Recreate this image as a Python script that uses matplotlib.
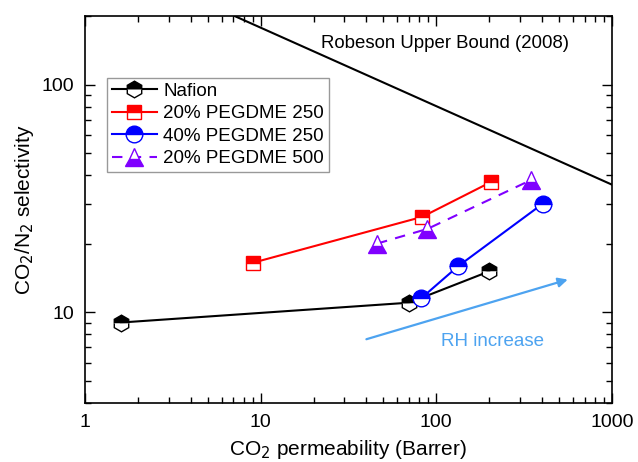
import numpy as np
import matplotlib.pyplot as plt
from matplotlib.ticker import LogLocator, NullFormatter, FixedLocator

plt.rcParams['font.family'] = ['Liberation Sans', 'DejaVu Sans']

# ---------------- data ----------------
nafion_perm = [1.6, 70, 200]
nafion_sel = [9.0, 11.0, 15.1]

peg20_250_perm = [9.1, 83, 205]
peg20_250_sel = [16.5, 26.2, 37.3]

peg40_250_perm = [82, 133, 405]
peg40_250_sel = [11.5, 15.9, 30.0]

peg20_500_perm = [46, 89, 345]
peg20_500_sel = [20.0, 23.2, 38.0]

# Robeson upper bound (2008), two end points
robeson_perm = [7.1, 1000]
robeson_sel = [200, 36.3]

# RH arrow: tail -> head
arrow_perm = [40, 560]
arrow_sel = [7.6, 13.9]

fig = plt.figure(figsize=(6.38, 4.62), dpi=100)
ax = fig.add_axes([0.1332, 0.1284, 0.8260, 0.8370])

ax.plot(robeson_perm, robeson_sel, color='black', lw=1.5)

common = dict(lw=1.5, markerfacecoloralt='white', mew=1.0)
ax.plot(nafion_perm, nafion_sel, '-', color='black', marker='h', fillstyle='top',
        mfc='black', mec='black', ms=12, label='Nafion', **common)
ax.plot(peg20_250_perm, peg20_250_sel, '-', color='#ff0000', marker='s', fillstyle='top',
        mfc='#ff0000', mec='#ff0000', ms=10, label='20% PEGDME 250', **common)
ax.plot(peg40_250_perm, peg40_250_sel, '-', color='#0000ff', marker='o', fillstyle='top',
        mfc='#0000ff', mec='#0000ff', ms=12, label='40% PEGDME 250', **common)
ax.plot(peg20_500_perm, peg20_500_sel, '--', color='#8000ff', marker='^', fillstyle='bottom',
        mfc='#8000ff', mec='#8000ff', ms=12.5, label='20% PEGDME 500', dashes=(5, 4), **common)

ax.annotate('', xy=(arrow_perm[1], arrow_sel[1]), xytext=(arrow_perm[0], arrow_sel[0]),
            arrowprops=dict(arrowstyle='-|>', color='#4da3f0', lw=1.6,
                            mutation_scale=14, shrinkA=0, shrinkB=0))
ax.text(210, 7.4, 'RH increase', color='#4da3f0', fontsize=13.5, ha='center', va='center')
ax.text(112, 152, 'Robeson Upper Bound (2008)', color='black', fontsize=13.4,
        ha='center', va='center')

ax.set_xscale('log')
ax.set_yscale('log')
ax.set_xlim(1, 1000)
ax.set_ylim(4, 200)

ax.xaxis.set_major_locator(FixedLocator([1, 10, 100, 1000]))
ax.xaxis.set_minor_locator(LogLocator(base=10, subs=np.arange(2, 10)))
ax.yaxis.set_major_locator(FixedLocator([10, 100]))
ax.yaxis.set_minor_locator(LogLocator(base=10, subs=np.arange(2, 10)))
ax.xaxis.set_minor_formatter(NullFormatter())
ax.yaxis.set_minor_formatter(NullFormatter())
ax.set_xticklabels(['1', '10', '100', '1000'])
ax.set_yticks([10, 100])
ax.set_yticklabels(['10', '100'])

ax.tick_params(which='both', direction='in', top=True, right=True, labelsize=14, width=1.0)
ax.tick_params(which='major', length=7, pad=8)
ax.tick_params(which='minor', length=4)
for sp in ax.spines.values():
    sp.set_linewidth(1.2)

ax.set_xlabel('CO$_2$ permeability (Barrer)', fontsize=15, labelpad=5)
ax.set_ylabel('CO$_2$/N$_2$ selectivity', fontsize=15, labelpad=4)

leg = ax.legend(loc='upper left', bbox_to_anchor=(0.042, 0.839), fontsize=13.5,
                fancybox=False, edgecolor='#808080', handlelength=2.4,
                labelspacing=0.28, borderpad=0.25, handletextpad=0.35,
                borderaxespad=0)
leg.get_frame().set_linewidth(1.0)

fig.savefig('out.png', dpi=100)
